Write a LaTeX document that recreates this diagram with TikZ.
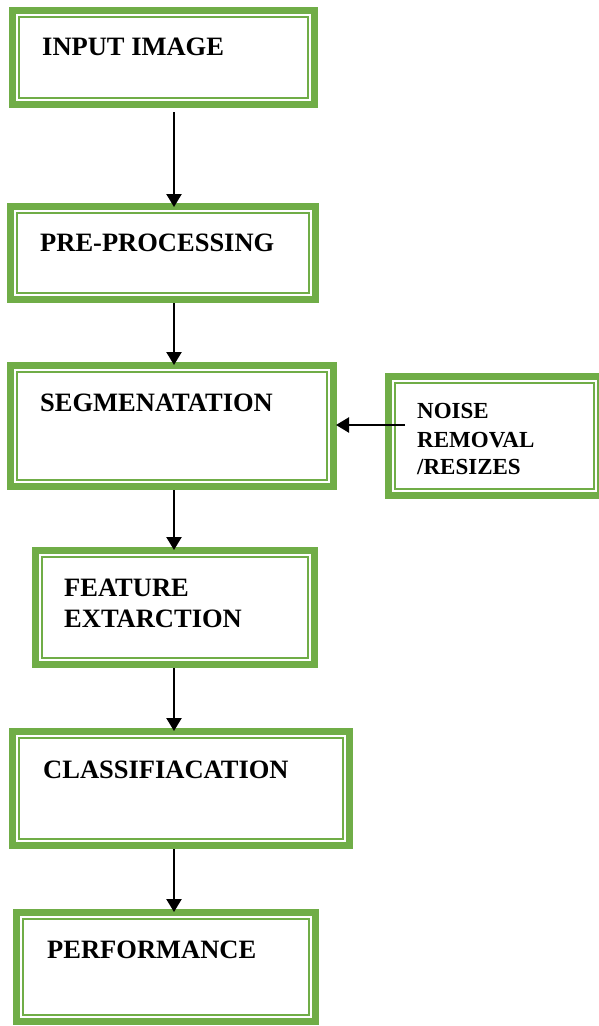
\documentclass[tikz,border=0pt]{standalone}
\usepackage{fontspec}
\setmainfont{Liberation Serif}
\usetikzlibrary{arrows.meta,calc}
\definecolor{boxgreen}{HTML}{70AD47}
\tikzset{
  outerbox/.style={draw=boxgreen, line width=7pt, fill=white, inner sep=0pt, rectangle},
  innerbox/.style={draw=boxgreen, line width=2pt, inner sep=0pt, rectangle},
  lbl/.style={anchor=base west, inner sep=0pt, font=\bfseries\fontsize{26.5}{31}\selectfont},
  slbl/.style={anchor=base west, inner sep=0pt, font=\bfseries\fontsize{23}{28}\selectfont},
  flow/.style={line width=2.3pt, -{Triangle[width=15pt,length=13pt]}},
}
% name, x1, y1, x2, y2 (outer edges)
\newcommand\gbox[5]{%
  \node[outerbox, minimum width={#4pt-#2pt-7pt}, minimum height={#5pt-#3pt-7pt}]
    (#1) at ({(#2+#4)/2},{(#3+#5)/2}) {};
  \node[innerbox, minimum width={#4pt-#2pt-20pt}, minimum height={#5pt-#3pt-20pt}]
    (#1-in) at ({(#2+#4)/2},{(#3+#5)/2}) {};
}
\begin{document}
\begin{tikzpicture}[x=1pt,y=-1pt]
\useasboundingbox (0,0) rectangle (599,1026);
\clip (0,0) rectangle (599,1026);
\fill[white] (0,0) rectangle (599,1026);

\gbox{b1}{9}{7}{318}{108}
\gbox{b2}{7}{203}{319}{303}
\gbox{b3}{7}{362}{337}{490}
\gbox{b4}{385}{373}{604}{499}
\gbox{b5}{32}{547}{318}{668}
\gbox{b6}{9}{728}{353}{849}
\gbox{b7}{13}{909}{319}{1025}

\node[lbl] (t1) at (42,55) {INPUT IMAGE};
\node[lbl] (t2) at (40,251) {PRE-PROCESSING};
\node[lbl] (t3) at (40,411) {SEGMENATATION};
\node[slbl] (t4a) at (417,418) {NOISE};
\node[slbl] (t4b) at (417,447) {REMOVAL};
\node[slbl] (t4c) at (417,474) {/RESIZES};
\node[lbl] (t5a) at (64,596) {FEATURE};
\node[lbl] (t5b) at (64,627) {EXTARCTION};
\node[lbl] (t6) at (43,778) {CLASSIFIACATION};
\node[lbl] (t7) at (47,958) {PERFORMANCE};

\coordinate (ax) at (174,0);
\coordinate (ay) at (0,425);
\draw[flow, shorten <=4pt, shorten >=-4pt] (b1.south -| ax) -- (b2.north -| ax);
\draw[flow, shorten >=-3pt] (b2.south -| ax) -- (b3.north -| ax);
\draw[flow, shorten >=-3pt] (b3.south -| ax) -- (b5.north -| ax);
\draw[flow, shorten >=-3pt] (b5.south -| ax) -- (b6.north -| ax);
\draw[flow, shorten >=-3pt] (b6.south -| ax) -- (b7.north -| ax);
\draw[flow, shorten >=-1pt] ([xshift=20pt]b4.west |- ay) -- (b3.east |- ay);
\end{tikzpicture}
\end{document}
